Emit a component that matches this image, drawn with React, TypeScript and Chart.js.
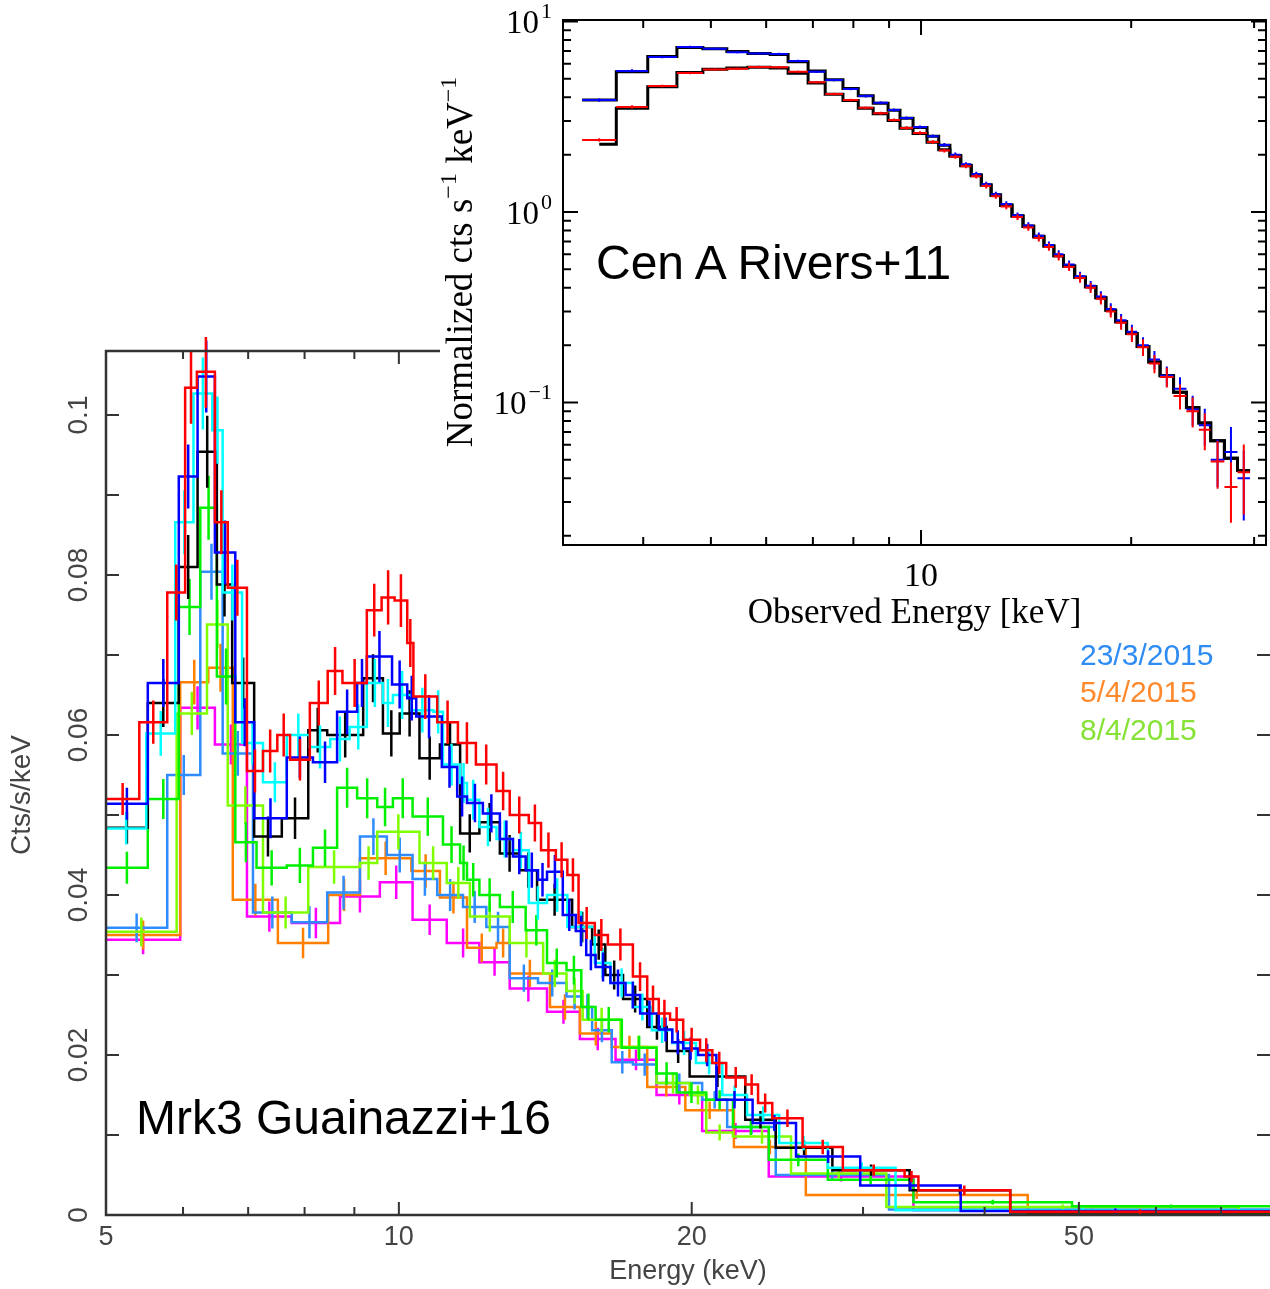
import React, { useEffect, useRef } from 'react';
import { Chart, registerables } from 'chart.js';

Chart.register(...registerables);

const SANS = "'Liberation Sans', Arial, Helvetica, sans-serif";
const SERIF = "'Liberation Serif', 'Times New Roman', 'DejaVu Serif', serif";

// ---------------- Main panel (Mrk 3) ----------------
const MAIN_X_MIN = 5;
const MAIN_X_MAX = 78.6;
const MAIN_Y_MIN = 0;
const MAIN_Y_MAX = 0.108;
const MAIN_X_TICKS = [5, 6, 7, 8, 9, 10, 20, 30, 40, 50, 60, 70];
const MAIN_X_LABELS = [5, 10, 20, 50];
const MAIN_Y_TICKS = [0, 0.01, 0.02, 0.03, 0.04, 0.05, 0.06, 0.07, 0.08, 0.09, 0.1];
const MAIN_Y_LABELS = [0, 0.02, 0.04, 0.06, 0.08, 0.1];
const MAIN_Y_LABEL_TEXT = ['0', '0.02', '0.04', '0.06', '0.08', '0.1'];

const redEdges = [5.0, 5.41, 5.78, 6.03, 6.2, 6.47, 6.67, 6.98, 7.25, 7.5, 7.73, 8.1, 8.45, 8.75, 9.27, 9.6, 9.9, 10.2, 10.35, 10.95, 11.5, 12.0, 12.6, 13.0, 13.6, 14.0, 14.5, 14.9, 15.3, 15.9, 16.4, 17.4, 18.0, 18.5, 19.0, 19.6, 20.4, 21.0, 21.7, 22.7, 23.4, 24.2, 26.0, 28.6, 33.1, 34.2, 42.5, 78.6];
const redVals = [0.0520, 0.0616, 0.0778, 0.1034, 0.1054, 0.0866, 0.0784, 0.0555, 0.0580, 0.0600, 0.0569, 0.0640, 0.0680, 0.0665, 0.0756, 0.0772, 0.0768, 0.0715, 0.0648, 0.0616, 0.0590, 0.0563, 0.0530, 0.0500, 0.0490, 0.0456, 0.0444, 0.0425, 0.0365, 0.0350, 0.0338, 0.0298, 0.0270, 0.0252, 0.0244, 0.0219, 0.0206, 0.0190, 0.0172, 0.0163, 0.0140, 0.0121, 0.0085, 0.0056, 0.0048, 0.0031, 0.0004];
const redErr = [0.0020, 0.0027, 0.0035, 0.0045, 0.0045, 0.0040, 0.0035, 0.0027, 0.0027, 0.0027, 0.0026, 0.0028, 0.0030, 0.0030, 0.0033, 0.0034, 0.0033, 0.0030, 0.0028, 0.0027, 0.0026, 0.0025, 0.0024, 0.0023, 0.0023, 0.0022, 0.0022, 0.0021, 0.0020, 0.0020, 0.0020, 0.0018, 0.0017, 0.0017, 0.0016, 0.0015, 0.0015, 0.0014, 0.0013, 0.0013, 0.0012, 0.0011, 0.0009, 0.0007, 0.0007, 0.0006, 0.0003];

const blueEdges = [5.0, 5.52, 5.94, 6.21, 6.47, 6.79, 7.1, 7.67, 8.16, 8.64, 9.06, 9.27, 9.84, 10.2, 10.42, 11.07, 11.48, 11.75, 12.2, 12.7, 13.1, 13.5, 13.9, 14.2, 14.74, 15.2, 15.58, 15.93, 16.5, 17.1, 17.7, 18.5, 19.1, 19.6, 20.3, 21.2, 23.1, 25.6, 29.8, 37.8, 78.6];
const blueVals = [0.0514, 0.0665, 0.0923, 0.1048, 0.0828, 0.0616, 0.0496, 0.0572, 0.0566, 0.0629, 0.0665, 0.0698, 0.0663, 0.0646, 0.0623, 0.0560, 0.0523, 0.0515, 0.0502, 0.0470, 0.0448, 0.0431, 0.0419, 0.0429, 0.0375, 0.0355, 0.0325, 0.0310, 0.0290, 0.0275, 0.0252, 0.0232, 0.0216, 0.0208, 0.0200, 0.0144, 0.0115, 0.0073, 0.0037, 0.0005];
const blueErr = [0.0020, 0.0030, 0.0040, 0.0045, 0.0040, 0.0030, 0.0025, 0.0026, 0.0026, 0.0028, 0.0030, 0.0032, 0.0030, 0.0028, 0.0027, 0.0026, 0.0025, 0.0024, 0.0024, 0.0023, 0.0022, 0.0022, 0.0021, 0.0021, 0.0020, 0.0019, 0.0019, 0.0018, 0.0017, 0.0017, 0.0016, 0.0015, 0.0015, 0.0014, 0.0014, 0.0011, 0.0010, 0.0008, 0.0006, 0.0003];

const cyanEdges = [5.0, 5.5, 5.89, 6.15, 6.43, 6.59, 6.9, 7.25, 7.67, 8.1, 8.5, 8.9, 9.27, 9.63, 9.86, 10.3, 10.85, 11.1, 11.56, 11.75, 12.1, 12.6, 13.1, 13.6, 14.2, 14.9, 15.9, 16.5, 17.4, 18.2, 19.1, 20.2, 21.5, 22.8, 24.6, 27.6, 32.4, 78.6];
const cyanVals = [0.0483, 0.0602, 0.0866, 0.1027, 0.0981, 0.0778, 0.0590, 0.0541, 0.0600, 0.0585, 0.0595, 0.0610, 0.0665, 0.0640, 0.0650, 0.0631, 0.0629, 0.0563, 0.0540, 0.0519, 0.0485, 0.0470, 0.0456, 0.0390, 0.0400, 0.0360, 0.0315, 0.0290, 0.0260, 0.0231, 0.0215, 0.0190, 0.0150, 0.0125, 0.0090, 0.0059, 0.0006];
const cyanErr = [0.0020, 0.0028, 0.0040, 0.0045, 0.0042, 0.0035, 0.0027, 0.0025, 0.0027, 0.0027, 0.0028, 0.0028, 0.0030, 0.0030, 0.0030, 0.0028, 0.0027, 0.0026, 0.0025, 0.0025, 0.0024, 0.0023, 0.0023, 0.0021, 0.0021, 0.0020, 0.0019, 0.0018, 0.0017, 0.0016, 0.0015, 0.0014, 0.0012, 0.0011, 0.0009, 0.0007, 0.0003];

const blackEdges = [5.0, 5.52, 5.94, 6.21, 6.5, 6.74, 7.1, 7.58, 8.07, 8.44, 9.19, 9.63, 10.02, 10.5, 11.02, 11.56, 12.1, 12.7, 13.3, 13.87, 15.07, 15.8, 16.3, 17.0, 18.0, 18.85, 19.9, 22.7, 24.4, 27.9, 33.5, 42.5, 78.6];
const blackVals = [0.0484, 0.0640, 0.0810, 0.0954, 0.0788, 0.0665, 0.0473, 0.0496, 0.0606, 0.0600, 0.0671, 0.0602, 0.0627, 0.0571, 0.0588, 0.0477, 0.0491, 0.0452, 0.0431, 0.0394, 0.0360, 0.0338, 0.0300, 0.0270, 0.0235, 0.0205, 0.0173, 0.0119, 0.0084, 0.0056, 0.0031, 0.0003];
const blackErr = [0.0020, 0.0030, 0.0040, 0.0045, 0.0040, 0.0032, 0.0025, 0.0026, 0.0028, 0.0028, 0.0030, 0.0029, 0.0029, 0.0027, 0.0027, 0.0024, 0.0024, 0.0023, 0.0022, 0.0020, 0.0019, 0.0019, 0.0018, 0.0017, 0.0016, 0.0015, 0.0013, 0.0011, 0.0009, 0.0007, 0.0005, 0.0003];

const greenEdges = [5.0, 5.52, 5.94, 6.25, 6.5, 6.79, 7.14, 7.67, 8.16, 8.64, 9.06, 9.5, 9.86, 10.33, 11.1, 11.56, 11.75, 12.1, 12.7, 13.5, 14.2, 14.87, 15.4, 15.93, 16.95, 18.4, 19.3, 20.7, 22.05, 24.0, 27.6, 33.8, 49.2, 78.6];
const greenVals = [0.0434, 0.0520, 0.0760, 0.0884, 0.0673, 0.0466, 0.0434, 0.0437, 0.0459, 0.0534, 0.0521, 0.0510, 0.0521, 0.0498, 0.0463, 0.0440, 0.0419, 0.0400, 0.0385, 0.0356, 0.0315, 0.0306, 0.0260, 0.0244, 0.0209, 0.0177, 0.0153, 0.0144, 0.0110, 0.0069, 0.0044, 0.0016, 0.0011];
const greenErr = [0.0020, 0.0025, 0.0035, 0.0040, 0.0035, 0.0025, 0.0022, 0.0022, 0.0023, 0.0025, 0.0025, 0.0024, 0.0025, 0.0024, 0.0023, 0.0022, 0.0021, 0.0021, 0.0020, 0.0019, 0.0018, 0.0018, 0.0017, 0.0016, 0.0015, 0.0014, 0.0013, 0.0012, 0.0010, 0.0008, 0.0006, 0.0003, 0.0002];

const dodgerEdges = [5.0, 5.78, 6.25, 6.59, 7.08, 7.76, 8.44, 9.12, 9.72, 10.33, 10.95, 11.64, 12.3, 13.0, 13.9, 14.87, 15.45, 15.8, 16.55, 17.4, 18.4, 20.5, 21.75, 24.4, 31.9, 78.6];
const dodgerVals = [0.0359, 0.0550, 0.0804, 0.0577, 0.0378, 0.0366, 0.0403, 0.0473, 0.0450, 0.0420, 0.0400, 0.0385, 0.0360, 0.0296, 0.0290, 0.0273, 0.0260, 0.0231, 0.0191, 0.0188, 0.0165, 0.0144, 0.0110, 0.0050, 0.0007];
const dodgerErr = [0.0018, 0.0025, 0.0035, 0.0028, 0.0020, 0.0020, 0.0021, 0.0023, 0.0022, 0.0021, 0.0020, 0.0020, 0.0019, 0.0017, 0.0017, 0.0016, 0.0016, 0.0015, 0.0014, 0.0014, 0.0012, 0.0011, 0.0009, 0.0006, 0.0002];

const orangeEdges = [5.0, 5.96, 6.37, 6.75, 7.51, 8.46, 9.12, 10.3, 11.02, 11.75, 12.6, 13.0, 14.3, 15.35, 16.55, 18.0, 19.7, 22.1, 26.2, 44.3, 78.6];
const orangeVals = [0.0350, 0.0666, 0.0684, 0.0394, 0.0340, 0.0400, 0.0446, 0.0430, 0.0397, 0.0334, 0.0340, 0.0302, 0.0260, 0.0227, 0.0210, 0.0160, 0.0131, 0.0085, 0.0025, 0.0003];
const orangeErr = [0.0018, 0.0028, 0.0030, 0.0020, 0.0019, 0.0020, 0.0021, 0.0021, 0.0020, 0.0018, 0.0018, 0.0017, 0.0016, 0.0015, 0.0014, 0.0012, 0.0011, 0.0009, 0.0005, 0.0002];

const limeEdges = [5.0, 5.91, 6.35, 6.67, 7.25, 8.07, 9.12, 9.5, 10.5, 11.2, 11.83, 13.0, 14.07, 14.87, 15.45, 16.9, 18.4, 19.9, 20.7, 22.05, 25.3, 31.7, 73.0, 78.6];
const limeVals = [0.0354, 0.0627, 0.0738, 0.0512, 0.0378, 0.0435, 0.0440, 0.0479, 0.0440, 0.0415, 0.0373, 0.0340, 0.0302, 0.0280, 0.0244, 0.0210, 0.0165, 0.0150, 0.0103, 0.0098, 0.0052, 0.0010, 0.0002];
const limeErr = [0.0018, 0.0027, 0.0030, 0.0024, 0.0020, 0.0021, 0.0021, 0.0022, 0.0021, 0.0020, 0.0019, 0.0018, 0.0017, 0.0016, 0.0015, 0.0014, 0.0013, 0.0012, 0.0010, 0.0009, 0.0006, 0.0003, 0.0002];

const magentaEdges = [5.0, 5.96, 6.47, 6.98, 7.76, 8.7, 9.56, 10.33, 11.2, 12.1, 13.0, 14.2, 15.35, 16.7, 18.4, 20.5, 24.0, 33.8, 78.6];
const magentaVals = [0.0344, 0.0634, 0.0588, 0.0373, 0.0365, 0.0398, 0.0416, 0.0369, 0.0340, 0.0316, 0.0283, 0.0254, 0.0220, 0.0194, 0.0150, 0.0105, 0.0048, 0.0006];
const magentaErr = [0.0018, 0.0027, 0.0025, 0.0019, 0.0019, 0.0020, 0.0021, 0.0019, 0.0018, 0.0017, 0.0016, 0.0015, 0.0014, 0.0013, 0.0012, 0.0010, 0.0006, 0.0002];

const LEGEND_LABELS = ['23/3/2015', '5/4/2015', '8/4/2015'];
const LEGEND_COLORS = ['#2f8cf2', '#ff8a2e', '#86e236'];

// ---------------- Inset (Cen A) ----------------
const INSET_X_MIN = 3.07;
const INSET_X_MAX = 31.2;
const INSET_Y_MIN = 0.01786;
const INSET_Y_MAX = 10.18;
const INSET_X_TICKS = [4, 5, 6, 7, 8, 9, 10, 20, 30];
const INSET_X_MAJOR = [10];
const INSET_Y_MAJOR = [0.1, 1, 10];
const INSET_Y_EXP = ['\u22121', '0', '1'];
const INSET_Y_MINOR = [0.02, 0.03, 0.04, 0.05, 0.06, 0.07, 0.08, 0.09, 0.2, 0.3, 0.4, 0.5, 0.6, 0.7, 0.8, 0.9, 2, 3, 4, 5, 6, 7, 8, 9];

const cenEdges = [3.27, 3.66, 4.06, 4.47, 4.87, 5.27, 5.65, 6.08, 6.45, 6.89, 7.29, 7.73, 8.13, 8.54, 8.97, 9.33, 9.74, 10.2, 10.6, 11.0, 11.4, 11.8, 12.2, 12.6, 13.0, 13.5, 14.0, 14.5, 15.0, 15.5, 16.0, 16.6, 17.2, 17.8, 18.4, 19.0, 19.7, 20.4, 21.2, 22.0, 23.0, 24.0, 25.0, 26.0, 27.2, 28.4, 29.6];
const cenRedModelStart = 3.46;
const cenBlue = [3.87, 5.50, 6.51, 7.35, 7.20, 6.90, 6.80, 6.75, 6.20, 5.44, 4.93, 4.42, 4.06, 3.74, 3.43, 3.11, 2.79, 2.50, 2.25, 2.00, 1.78, 1.58, 1.40, 1.24, 1.10, 0.96, 0.85, 0.75, 0.67, 0.60, 0.53, 0.46, 0.41, 0.36, 0.31, 0.27, 0.235, 0.20, 0.168, 0.138, 0.118, 0.092, 0.076, 0.050, 0.055, 0.040];
const cenRed = [2.39, 3.56, 4.58, 5.37, 5.60, 5.65, 5.77, 5.75, 5.44, 4.80, 4.16, 3.87, 3.52, 3.30, 3.04, 2.76, 2.60, 2.33, 2.10, 1.95, 1.74, 1.54, 1.37, 1.21, 1.07, 0.94, 0.83, 0.73, 0.655, 0.585, 0.515, 0.45, 0.40, 0.35, 0.30, 0.262, 0.228, 0.195, 0.16, 0.136, 0.108, 0.090, 0.072, 0.049, 0.036, 0.043];
const cenModelBlue = [3.87, 5.45, 6.55, 7.30, 7.20, 6.95, 6.80, 6.70, 6.15, 5.50, 4.95, 4.45, 4.08, 3.72, 3.42, 3.10, 2.78, 2.50, 2.24, 1.98, 1.76, 1.57, 1.39, 1.23, 1.09, 0.955, 0.845, 0.745, 0.665, 0.59, 0.52, 0.455, 0.405, 0.355, 0.305, 0.265, 0.23, 0.197, 0.163, 0.138, 0.113, 0.094, 0.078, 0.063, 0.051, 0.044];
const cenModelRed = [2.27, 3.50, 4.55, 5.40, 5.62, 5.70, 5.75, 5.70, 5.35, 4.75, 4.15, 3.85, 3.50, 3.28, 3.02, 2.75, 2.58, 2.32, 2.12, 1.96, 1.75, 1.55, 1.38, 1.22, 1.08, 0.95, 0.84, 0.74, 0.66, 0.59, 0.52, 0.455, 0.405, 0.355, 0.305, 0.265, 0.23, 0.197, 0.163, 0.138, 0.113, 0.094, 0.078, 0.063, 0.051, 0.044];
const cenRelErr = [0.02, 0.02, 0.015, 0.015, 0.015, 0.015, 0.015, 0.015, 0.015, 0.015, 0.015, 0.015, 0.018, 0.018, 0.018, 0.02, 0.02, 0.02, 0.022, 0.025, 0.025, 0.028, 0.03, 0.03, 0.035, 0.035, 0.04, 0.04, 0.045, 0.05, 0.05, 0.055, 0.06, 0.065, 0.07, 0.08, 0.09, 0.1, 0.11, 0.12, 0.15, 0.18, 0.22, 0.28, 0.35, 0.4];

// ---------------- helpers ----------------
function stepPoints(edges: number[], vals: number[]) {
  const pts: any[] = vals.map((v, i) => ({ x: edges[i], y: v }));
  pts.push({ x: edges[vals.length], y: vals[vals.length - 1] });
  return pts;
}

function errorBarPoints(edges: number[], vals: number[], errs: number[]) {
  const pts: any[] = [];
  vals.forEach((v, i) => {
    const c = Math.sqrt(edges[i] * edges[i + 1]);
    pts.push({ x: c, y: v - errs[i] }, { x: c, y: v + errs[i] }, { x: c, y: null });
  });
  return pts;
}

function crossPoints(edges: number[], vals: number[], rel: number[]) {
  const pts: any[] = [];
  vals.forEach((v, i) => {
    const lo = edges[i];
    const hi = edges[i + 1];
    const c = Math.sqrt(lo * hi);
    const e = v * rel[i];
    pts.push({ x: lo, y: v }, { x: hi, y: v }, { x: hi, y: null });
    pts.push({ x: c, y: v - e }, { x: c, y: v + e }, { x: c, y: null });
  });
  return pts;
}

// bottom-to-top drawing order
const MAIN_SERIES = [
  { edges: magentaEdges, vals: magentaVals, errs: magentaErr, color: '#ff00ff' },
  { edges: orangeEdges, vals: orangeVals, errs: orangeErr, color: '#ff8000' },
  { edges: dodgerEdges, vals: dodgerVals, errs: dodgerErr, color: '#2f8cff' },
  { edges: limeEdges, vals: limeVals, errs: limeErr, color: '#80ff00' },
  { edges: greenEdges, vals: greenVals, errs: greenErr, color: '#00f000' },
  { edges: blackEdges, vals: blackVals, errs: blackErr, color: '#000000' },
  { edges: cyanEdges, vals: cyanVals, errs: cyanErr, color: '#00ffff' },
  { edges: blueEdges, vals: blueVals, errs: blueErr, color: '#0000ff' },
  { edges: redEdges, vals: redVals, errs: redErr, color: '#ff0000' },
];

function buildMainDatasets() {
  const ds: any[] = [];
  MAIN_SERIES.forEach((s) => {
    ds.push({
      data: stepPoints(s.edges, s.vals),
      borderColor: s.color,
      borderWidth: 2.5,
      stepped: true,
      pointRadius: 0,
      fill: false,
    });
    ds.push({
      data: errorBarPoints(s.edges, s.vals, s.errs),
      borderColor: s.color,
      borderWidth: 2.5,
      pointRadius: 0,
      spanGaps: false,
      fill: false,
      clip: { left: 0, top: 14, right: 0, bottom: 0 },
    });
  });
  return ds.reverse();
}

function buildInsetDatasets() {
  const modelRedEdges = [cenRedModelStart].concat(cenEdges.slice(1));
  const ds: any[] = [
    { data: stepPoints(cenEdges, cenModelBlue), borderColor: '#000', borderWidth: 3, stepped: true, pointRadius: 0, fill: false },
    { data: stepPoints(modelRedEdges, cenModelRed), borderColor: '#000', borderWidth: 3, stepped: true, pointRadius: 0, fill: false },
    { data: crossPoints(cenEdges, cenBlue, cenRelErr), borderColor: '#0000ff', borderWidth: 2, pointRadius: 0, spanGaps: false, fill: false },
    { data: crossPoints(cenEdges, cenRed, cenRelErr), borderColor: '#ff0000', borderWidth: 2, pointRadius: 0, spanGaps: false, fill: false },
  ];
  return ds.reverse();
}

const mainFramePlugin = {
  id: 'mainFrame',
  afterDraw(chart: any) {
    const { ctx, chartArea: a } = chart;
    const x = chart.scales.x;
    const y = chart.scales.y;
    ctx.save();
    ctx.strokeStyle = '#333';
    ctx.lineWidth = 2.5;
    ctx.beginPath();
    ctx.moveTo(a.right, a.top);
    ctx.lineTo(a.left, a.top);
    ctx.lineTo(a.left, a.bottom);
    ctx.lineTo(a.right, a.bottom);
    ctx.stroke();
    ctx.lineWidth = 2;
    ctx.beginPath();
    MAIN_X_TICKS.forEach((v) => {
      const px = x.getPixelForValue(v);
      const len = MAIN_X_LABELS.includes(v) ? 13 : 8;
      ctx.moveTo(px, a.bottom);
      ctx.lineTo(px, a.bottom - len);
      ctx.moveTo(px, a.top);
      ctx.lineTo(px, a.top + len);
    });
    MAIN_Y_TICKS.forEach((v) => {
      const py = y.getPixelForValue(v);
      ctx.moveTo(a.left, py);
      ctx.lineTo(a.left + 13, py);
      ctx.moveTo(a.right, py);
      ctx.lineTo(a.right - 13, py);
    });
    ctx.stroke();
    ctx.fillStyle = '#444';
    ctx.font = `28px ${SANS}`;
    ctx.textAlign = 'center';
    ctx.textBaseline = 'middle';
    MAIN_Y_LABELS.forEach((v, i) => {
      const py = y.getPixelForValue(v);
      ctx.save();
      ctx.translate(a.left - 27, py);
      ctx.rotate(-Math.PI / 2);
      ctx.fillText(MAIN_Y_LABEL_TEXT[i], 0, 0);
      ctx.restore();
    });
    ctx.save();
    ctx.translate(22, 795);
    ctx.rotate(-Math.PI / 2);
    ctx.fillText('Cts/s/keV', 0, 0);
    ctx.restore();
    ctx.restore();
  },
};

const insetFramePlugin = {
  id: 'insetFrame',
  afterDraw(chart: any) {
    const { ctx, chartArea: a } = chart;
    const x = chart.scales.x;
    const y = chart.scales.y;
    ctx.save();
    ctx.strokeStyle = '#000';
    ctx.lineWidth = 2;
    ctx.strokeRect(a.left, a.top, a.right - a.left, a.bottom - a.top);
    ctx.beginPath();
    INSET_X_TICKS.forEach((v) => {
      const px = x.getPixelForValue(v);
      const len = INSET_X_MAJOR.includes(v) ? 15 : 8;
      ctx.moveTo(px, a.bottom);
      ctx.lineTo(px, a.bottom - len);
      ctx.moveTo(px, a.top);
      ctx.lineTo(px, a.top + len);
    });
    INSET_Y_MAJOR.forEach((v) => {
      const py = y.getPixelForValue(v);
      ctx.moveTo(a.left, py);
      ctx.lineTo(a.left + 15, py);
      ctx.moveTo(a.right, py);
      ctx.lineTo(a.right - 15, py);
    });
    INSET_Y_MINOR.forEach((v) => {
      const py = y.getPixelForValue(v);
      ctx.moveTo(a.left, py);
      ctx.lineTo(a.left + 8, py);
      ctx.moveTo(a.right, py);
      ctx.lineTo(a.right - 8, py);
    });
    ctx.stroke();

    ctx.fillStyle = '#000';
    ctx.textAlign = 'left';
    ctx.textBaseline = 'middle';
    INSET_Y_MAJOR.forEach((v, i) => {
      const py = y.getPixelForValue(v);
      ctx.font = `33px ${SERIF}`;
      const bw = ctx.measureText('10').width;
      ctx.font = `22px ${SERIF}`;
      const sw = ctx.measureText(INSET_Y_EXP[i]).width;
      const start = a.left - 11 - sw - bw - 2;
      ctx.font = `33px ${SERIF}`;
      ctx.fillText('10', start, py + 3);
      ctx.font = `22px ${SERIF}`;
      ctx.fillText(INSET_Y_EXP[i], start + bw + 2, py - 9);
    });

    const parts: [string, number, number][] = [
      ['Normalized cts s', 37, 0],
      ['\u22121', 24, -12],
      [' keV', 37, 0],
      ['\u22121', 24, -12],
    ];
    let total = 0;
    parts.forEach((p) => {
      ctx.font = `${p[1]}px ${SERIF}`;
      total += ctx.measureText(p[0]).width;
    });
    ctx.save();
    ctx.translate(22, 262);
    ctx.rotate(-Math.PI / 2);
    let cx = -total / 2;
    parts.forEach((p) => {
      ctx.font = `${p[1]}px ${SERIF}`;
      ctx.fillText(p[0], cx, p[2]);
      cx += ctx.measureText(p[0]).width;
    });
    ctx.restore();
    ctx.restore();
  },
};

export default function App() {
  const mainRef = useRef<HTMLCanvasElement>(null);
  const insetRef = useRef<HTMLCanvasElement>(null);

  useEffect(() => {
    const main = new Chart(mainRef.current as HTMLCanvasElement, {
      type: 'line',
      data: { datasets: buildMainDatasets() },
      options: {
        responsive: false,
        maintainAspectRatio: false,
        animation: false,
        layout: { padding: { left: 0, right: 0, top: 351, bottom: 0 } },
        elements: { line: { tension: 0, borderJoinStyle: 'miter', borderCapStyle: 'butt' }, point: { radius: 0 } },
        plugins: { legend: { display: false }, tooltip: { enabled: false } },
        scales: {
          x: {
            type: 'logarithmic',
            min: MAIN_X_MIN,
            max: MAIN_X_MAX,
            grid: { display: false, drawTicks: false },
            border: { display: false },
            afterBuildTicks: (s: any) => {
              s.ticks = MAIN_X_TICKS.map((v) => ({ value: v }));
            },
            afterFit: (s: any) => {
              s.height = 74;
            },
            ticks: {
              autoSkip: false,
              maxRotation: 0,
              minRotation: 0,
              padding: 6,
              color: '#444',
              font: { family: SANS, size: 27 },
              callback: (v: any) => (MAIN_X_LABELS.includes(Number(v)) ? String(v) : ''),
            },
            title: { display: true, text: 'Energy (keV)', color: '#444', font: { family: SANS, size: 27 }, padding: { top: 0, bottom: 1 } },
          },
          y: {
            type: 'linear',
            min: MAIN_Y_MIN,
            max: MAIN_Y_MAX,
            grid: { display: false, drawTicks: false },
            border: { display: false },
            ticks: { display: false },
            afterFit: (s: any) => {
              s.width = 106;
            },
          },
        },
      } as any,
      plugins: [mainFramePlugin],
    });

    const inset = new Chart(insetRef.current as HTMLCanvasElement, {
      type: 'line',
      data: { datasets: buildInsetDatasets() },
      options: {
        responsive: false,
        maintainAspectRatio: false,
        animation: false,
        layout: { padding: { left: 0, right: 4, top: 20, bottom: 0 } },
        elements: { line: { tension: 0, borderJoinStyle: 'miter', borderCapStyle: 'butt' }, point: { radius: 0 } },
        plugins: { legend: { display: false }, tooltip: { enabled: false } },
        scales: {
          x: {
            type: 'logarithmic',
            min: INSET_X_MIN,
            max: INSET_X_MAX,
            grid: { display: false, drawTicks: false },
            border: { display: false },
            afterBuildTicks: (s: any) => {
              s.ticks = INSET_X_TICKS.map((v) => ({ value: v }));
            },
            afterFit: (s: any) => {
              s.height = 95;
            },
            ticks: {
              autoSkip: false,
              maxRotation: 0,
              minRotation: 0,
              padding: 12,
              color: '#000',
              font: { family: SERIF, size: 34 },
              callback: (v: any) => (INSET_X_MAJOR.includes(Number(v)) ? String(v) : ''),
            },
            title: { display: true, text: 'Observed Energy [keV]', color: '#000', font: { family: SERIF, size: 35 }, padding: { top: 0, bottom: 5 } },
          },
          y: {
            type: 'logarithmic',
            min: INSET_Y_MIN,
            max: INSET_Y_MAX,
            grid: { display: false, drawTicks: false },
            border: { display: false },
            ticks: { display: false },
            afterFit: (s: any) => {
              s.width = 123;
            },
          },
        },
      } as any,
      plugins: [insetFramePlugin],
    });

    return () => {
      main.destroy();
      inset.destroy();
    };
  }, []);

  const legendTops = [640, 677, 715];

  return (
    <div style={{ position: 'absolute', left: 0, top: 0, width: 1270, height: 1289, background: '#fff', overflow: 'hidden' }}>
      <canvas ref={mainRef} width={1270} height={1289} style={{ position: 'absolute', left: 0, top: 0, width: 1270, height: 1289 }} />
      <canvas ref={insetRef} width={830} height={640} style={{ position: 'absolute', left: 440, top: 0, width: 830, height: 640, background: '#fff' }} />
      <div style={{ position: 'absolute', left: 136, top: 1094, font: `48px ${SANS}`, lineHeight: '48px', color: '#000', whiteSpace: 'nowrap' }}>Mrk3 Guainazzi+16</div>
      <div style={{ position: 'absolute', left: 596, top: 239, font: `48px ${SANS}`, lineHeight: '48px', color: '#000', whiteSpace: 'nowrap' }}>Cen A Rivers+11</div>
      {LEGEND_LABELS.map((t, i) => (
        <div key={t} style={{ position: 'absolute', left: 1080, top: legendTops[i], font: `30px ${SANS}`, lineHeight: '30px', color: LEGEND_COLORS[i], whiteSpace: 'nowrap' }}>{t}</div>
      ))}
    </div>
  );
}
